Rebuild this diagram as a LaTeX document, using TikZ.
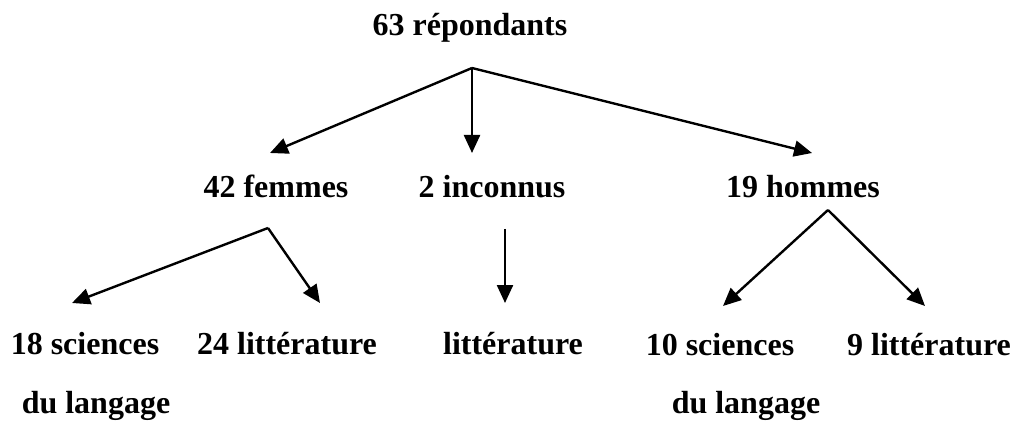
\documentclass[tikz,border=0pt]{standalone}
\usepackage{fontspec}
\setmainfont{Liberation Serif}
\usetikzlibrary{arrows.meta}
\begin{document}
\begin{tikzpicture}[x=1pt,y=-1pt,
  lbl/.style={anchor=base,inner sep=0pt,font=\fontsize{32}{38}\selectfont\bfseries},
  arr/.style={line width=2.4pt,-{Triangle[length=18pt,width=16pt]}},
  ln/.style={line width=2.4pt}]
\useasboundingbox (0,0) rectangle (1021,425);
% texts
\node[lbl] (root) at (470,36) {63 répondants};
\node[lbl] (fem) at (276,198) {42 femmes};
\node[lbl] (inc) at (492,198) {2 inconnus};
\node[lbl] (hom) at (803,198) {19 hommes};
\node[lbl] (sc1) at (85,354) {18 sciences};
\node[lbl] (dl1) at (96,413) {du langage};
\node[lbl] (lit1) at (287,354) {24 littérature};
\node[lbl] (lit2) at (513,354) {littérature};
\node[lbl] (sc2) at (720,355) {10 sciences};
\node[lbl] (dl2) at (746,413) {du langage};
\node[lbl] (lit3) at (929,355) {9 littérature};
% junctions and tips
\coordinate (j0) at (472,68);
\coordinate (tf) at (270,153);
\coordinate (ti) at (472,153);
\coordinate (th) at (812,153);
\coordinate (j1) at (268,228);
\coordinate (t1) at (72,303);
\coordinate (t2) at (320,303);
\coordinate (j2) at (505,229);
\coordinate (t3) at (505,303);
\coordinate (j3) at (828,210);
\coordinate (t4) at (723,306);
\coordinate (t5) at (925,306);
% connectors
\draw[arr] (j0) -- (tf);
\draw[arr] (j0) -- (ti);
\draw[arr] (j0) -- (th);
\draw[arr] (j1) -- (t1);
\draw[arr] (j1) -- (t2);
\draw[arr] (j2) -- (t3);
\draw[arr] (j3) -- (t4);
\draw[arr] (j3) -- (t5);
\end{tikzpicture}
\end{document}
